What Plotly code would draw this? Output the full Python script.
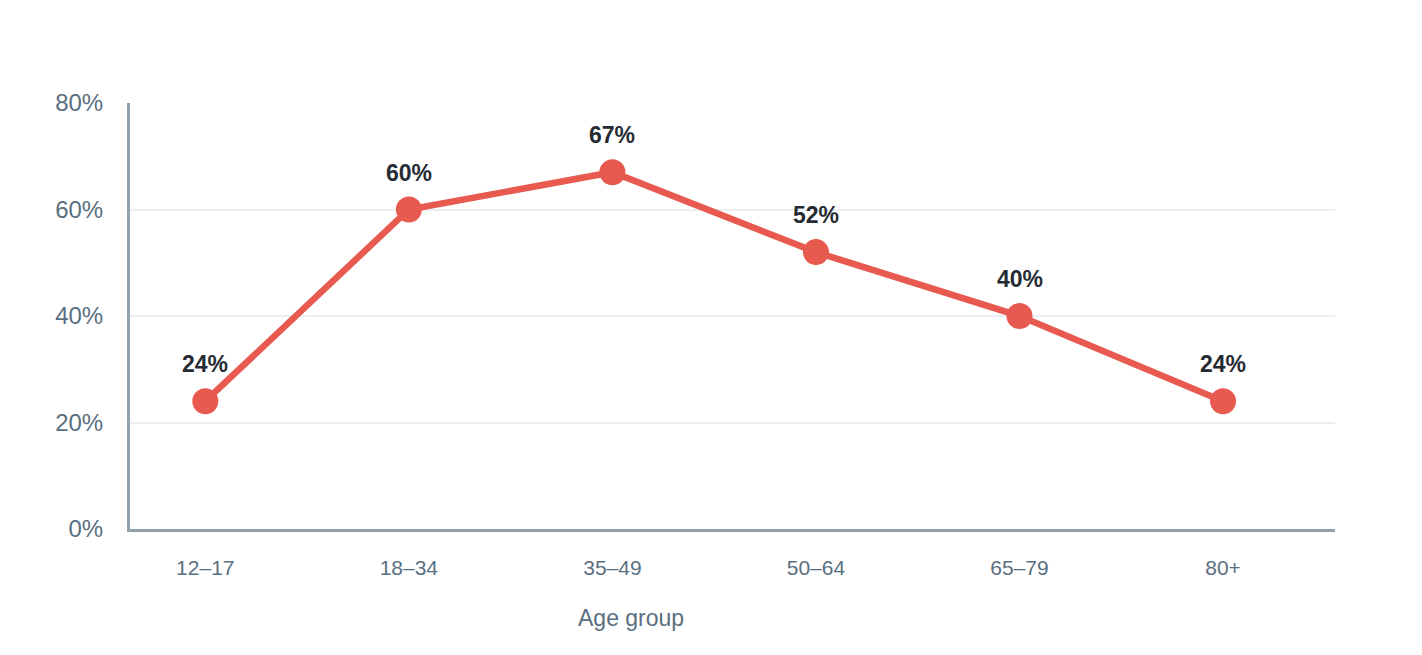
import plotly.graph_objects as go

age_groups = ["12–17", "18–34", "35–49", "50–64", "65–79", "80+"]
shares = [24, 60, 67, 52, 40, 24]
y_ticks = [0, 20, 40, 60, 80]
y_tick_labels = ["0%", "20%", "40%", "60%", "80%"]

line_color = "#e8594f"
font_family = "Liberation Sans, Arial, sans-serif"
axis_text = "#5a6f7f"

fig = go.Figure()
fig.add_trace(go.Scatter(
    x=age_groups, y=shares, mode="lines+markers",
    line=dict(color=line_color, width=6.5),
    marker=dict(color=line_color, size=26),
    hoverinfo="skip", showlegend=False,
))

for a, v in zip(age_groups, shares):
    fig.add_annotation(
        x=a, y=v, text=f"<b>{v}%</b>", showarrow=False,
        yshift=37, font=dict(family=font_family, size=23, color="#262b33"),
    )

fig.add_annotation(
    xref="paper", yref="paper", x=0.4158, y=-0.209,
    xanchor="center", yanchor="middle", showarrow=False,
    text="Age group", font=dict(family=font_family, size=23, color=axis_text),
)

fig.update_layout(
    width=1422, height=655,
    margin=dict(l=130, r=87, t=103, b=126),
    paper_bgcolor="white", plot_bgcolor="white",
    font=dict(family=font_family),
)
fig.update_xaxes(
    type="category", range=[-0.37, 5.55],
    showline=True, linecolor="#8fa1ab", linewidth=3,
    showgrid=False, zeroline=False,
    ticks="outside", ticklen=18, tickcolor="rgba(0,0,0,0)",
    tickfont=dict(size=21, color=axis_text),
)
fig.update_yaxes(
    range=[0, 80], tickvals=y_ticks, ticktext=y_tick_labels,
    showline=True, linecolor="#8fa1ab", linewidth=3,
    showgrid=True, gridcolor="#eceff1", gridwidth=2,
    zeroline=False,
    ticks="outside", ticklen=19, tickcolor="rgba(0,0,0,0)",
    tickfont=dict(size=24, color=axis_text),
)

fig.write_html("out.html")
